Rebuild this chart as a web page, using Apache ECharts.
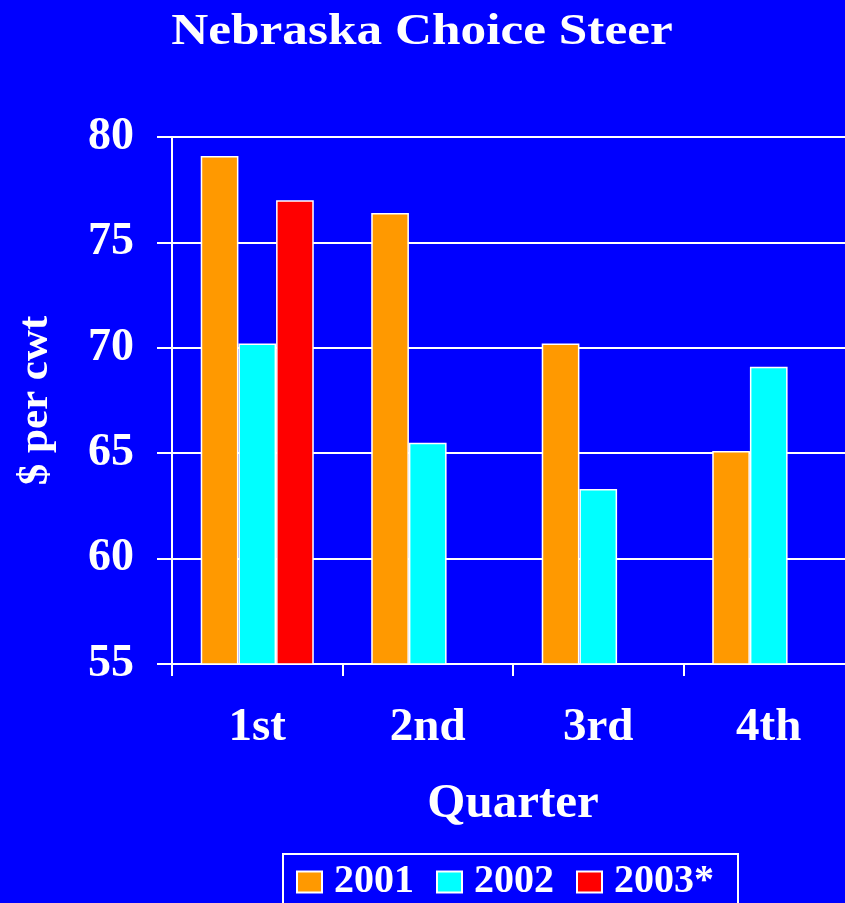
<!DOCTYPE html>
<html>
<head>
<meta charset="utf-8">
<script src="https://cdn.jsdelivr.net/npm/echarts@6/dist/echarts.min.js"></script>
<style>
html, body { margin: 0; padding: 0; background: #0000ff; }
#chart { width: 845px; height: 903px; }
</style>
</head>
<body>
<div id="chart"></div>
<script>
// quarterly prices, $ per cwt
var quarters = ['1st', '2nd', '3rd', '4th'];
var y2001 = [79.1, 76.4, 70.2, 65.1];
var y2002 = [70.2, 65.5, 63.3, 69.1];
var y2003 = [77.0, null, null, null];

var serif = '"Liberation Serif", "Times New Roman", serif';
var white = '#ffffff';

function barSeries(name, data, color) {
    return {
        name: name,
        type: 'bar',
        data: data,
        barGap: '0%',
        barCategoryGap: '33.7%',
        itemStyle: { color: color, borderColor: white, borderWidth: 1.5 }
    };
}

var chart = echarts.init(document.getElementById('chart'));
chart.setOption({
    backgroundColor: '#0000ff',
    animation: false,
    // title drawn as graphic text so it can be stretched a little, like the original
    graphic: [{
        type: 'text',
        x: 422,
        y: 32,
        scaleX: 1.14,
        style: {
            text: 'Nebraska Choice Steer',
            fill: white,
            font: 'bold 45px ' + serif,
            align: 'center',
            verticalAlign: 'middle'
        }
    }],
    legend: {
        left: 283,
        top: 854,
        padding: [8, 24, 30, 13],
        borderColor: white,
        borderWidth: 2,
        itemWidth: 25,
        itemHeight: 21,
        itemGap: 22,
        icon: 'rect',
        textStyle: { color: white, fontFamily: serif, fontWeight: 'bold', fontSize: 40, padding: [0, 0, 0, 7] },
        data: ['2001', '2002', '2003*']
    },
    grid: { left: 172, top: 137, bottom: 239, right: -9, containLabel: false, outerBoundsMode: 'none' },
    xAxis: {
        type: 'category',
        data: quarters,
        name: 'Quarter',
        nameLocation: 'middle',
        nameGap: 116,
        nameTextStyle: { color: white, fontFamily: serif, fontWeight: 'bold', fontSize: 49 },
        axisLine: { show: true, lineStyle: { color: white, width: 2 } },
        axisTick: { show: true, inside: false, length: 12, lineStyle: { color: white, width: 2 } },
        axisLabel: { color: white, fontFamily: serif, fontWeight: 'bold', fontSize: 47, margin: 40 }
    },
    yAxis: {
        type: 'value',
        min: 55,
        max: 80,
        interval: 5,
        name: '$ per cwt',
        nameLocation: 'middle',
        nameGap: 115,
        nameTextStyle: { color: white, fontFamily: serif, fontWeight: 'bold', fontSize: 43 },
        axisLine: { show: true, lineStyle: { color: white, width: 2 } },
        axisTick: { show: true, length: 15, lineStyle: { color: white, width: 2 } },
        axisLabel: { color: white, fontFamily: serif, fontWeight: 'bold', fontSize: 46, margin: 38 },
        splitLine: { lineStyle: { color: white, width: 2 } }
    },
    series: [
        barSeries('2001', y2001, '#ff9900'),
        barSeries('2002', y2002, '#00ffff'),
        barSeries('2003*', y2003, '#ff0000')
    ]
});
</script>
</body>
</html>
